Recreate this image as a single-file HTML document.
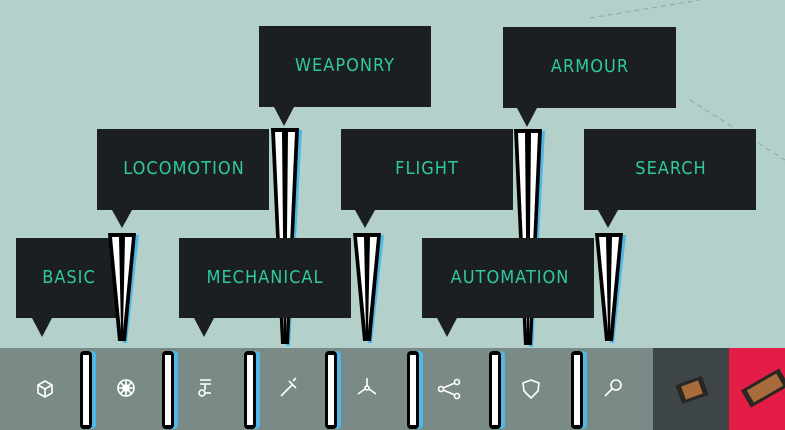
<!DOCTYPE html>
<html><head><meta charset="utf-8"><style>
html,body{margin:0;padding:0;width:785px;height:430px;overflow:hidden;background:#b3d1ca}
svg{display:block}
text{font-family:"DejaVu Sans Condensed","Liberation Sans Narrow","Liberation Sans",sans-serif;font-size:18px;fill:#2ec9a0;letter-spacing:1px;text-anchor:middle}
</style></head><body>
<svg width="785" height="430" viewBox="0 0 785 430" xmlns="http://www.w3.org/2000/svg">
<defs>
<g id="spk">
 <polygon points="-10,0 17,0 5,108 1,108" fill="#4fb8e6"/>
 <polygon points="-14,-2 14,-2 4,106 -4,106" fill="#000"/>
 <polygon points="-10,2 -3,2 -1,96" fill="#fff"/>
 <polygon points="3,2 10,2 1,96" fill="#fff"/>
</g>
<g id="spkL">
 <polygon points="-10,0 17,0 5,216 1,216" fill="#4fb8e6"/>
 <polygon points="-14,-2 14,-2 4,214 -4,214" fill="#000"/>
 <polygon points="-10,2 -3,2 -1,204" fill="#fff"/>
 <polygon points="3,2 10,2 1,204" fill="#fff"/>
</g>
<g id="bar">
 <rect x="-2" y="0" width="12" height="78" rx="4" fill="#4fb8e6"/>
 <rect x="-6" y="0" width="12" height="78" rx="4" fill="#000"/>
 <rect x="-3" y="4" width="6" height="70" fill="#fff"/>
</g>
</defs>
<!-- faint lines -->
<path d="M590 18 L700 0 M690 100 L785 160" stroke="#8fa5a2" stroke-width="1" stroke-dasharray="5,4" fill="none"/>
<!-- level1 boxes -->
<rect x="259" y="26" width="172" height="81" fill="#1c1f22"/>
<polygon points="274,107 294,107 284,126" fill="#1c1f22"/>
<text x="345" y="71">WEAPONRY</text>
<rect x="503" y="27" width="173" height="81" fill="#1c1f22"/>
<polygon points="517,108 537,108 527,127" fill="#1c1f22"/>
<text x="590" y="72">ARMOUR</text>
<!-- level2 boxes -->
<rect x="97" y="129" width="172" height="81" fill="#1c1f22"/>
<polygon points="112,210 132,210 122,228" fill="#1c1f22"/>
<text x="184" y="174">LOCOMOTION</text>
<rect x="341" y="129" width="172" height="81" fill="#1c1f22"/>
<polygon points="355,210 375,210 365,228" fill="#1c1f22"/>
<text x="427" y="174">FLIGHT</text>
<rect x="584" y="129" width="172" height="81" fill="#1c1f22"/>
<polygon points="598,210 618,210 608,228" fill="#1c1f22"/>
<text x="671" y="174">SEARCH</text>
<!-- long spikes -->
<use href="#spkL" x="285" y="130"/>
<use href="#spkL" x="528" y="131"/>
<!-- level3 boxes -->
<rect x="16" y="238" width="100" height="80" fill="#1c1f22"/>
<polygon points="32,318 52,318 42,337" fill="#1c1f22"/>
<text x="69" y="283">BASIC</text>
<rect x="179" y="238" width="172" height="80" fill="#1c1f22"/>
<polygon points="194,318 214,318 204,337" fill="#1c1f22"/>
<text x="265" y="283">MECHANICAL</text>
<rect x="422" y="238" width="172" height="80" fill="#1c1f22"/>
<polygon points="437,318 457,318 447,337" fill="#1c1f22"/>
<text x="510" y="283">AUTOMATION</text>
<!-- short spikes -->
<use href="#spk" x="122" y="235"/>
<use href="#spk" x="367" y="235"/>
<use href="#spk" x="609" y="235"/>
<!-- bottom bar -->
<rect x="0" y="348" width="653" height="82" fill="#7a8b87"/>
<rect x="653" y="348" width="76" height="82" fill="#3d4548"/>
<rect x="729" y="348" width="56" height="82" fill="#e41d47"/>
<g transform="translate(692,390) rotate(-20)"><rect x="-14" y="-10" width="28" height="20" fill="#2a2623"/><rect x="-9" y="-7" width="18" height="14" fill="#a86c3c"/></g>
<g transform="translate(765,388) rotate(-30)"><rect x="-22" y="-10" width="44" height="20" fill="#2a2623"/><rect x="-17" y="-7" width="34" height="14" fill="#a86c3c"/></g>
<use href="#bar" x="86" y="351"/>
<use href="#bar" x="168" y="351"/>
<use href="#bar" x="250" y="351"/>
<use href="#bar" x="331" y="351"/>
<use href="#bar" x="413" y="351"/>
<use href="#bar" x="495" y="351"/>
<use href="#bar" x="577" y="351"/>
<!-- icons -->
<g stroke="#fff" stroke-width="1.6" fill="none" stroke-linejoin="round">
 <path d="M45 381 L52 385 L52 393 L45 397 L38 393 L38 385 Z M38 385 L45 389 L52 385 M45 389 L45 397"/>
 <circle cx="126" cy="388" r="8"/><circle cx="126" cy="388" r="3"/><path d="M126 380 V396 M118 388 H134 M120 382 L132 394 M132 382 L120 394"/>
 <path d="M200 380 H211 M200 384 H211 M205 384 V390"/><circle cx="202" cy="393" r="3"/><path d="M205 393 H211"/>
 <path d="M281 396 L293 384 M289 381 L296 388 M293 381 L296 378"/>
 <circle cx="367" cy="388" r="2"/><path d="M367 386 V378 M365 389 L358 394 M369 389 L376 394"/>
 <circle cx="441" cy="389" r="2.5"/><circle cx="457" cy="382" r="2.5"/><circle cx="457" cy="396" r="2.5"/><path d="M443 388 L455 383 M443 390 L455 395"/>
 <path d="M531 380 L539 383 L538 391 L531 398 L524 391 L523 383 Z"/>
 <circle cx="616" cy="385" r="5"/><path d="M612 389 L605 396"/>
</g>
</svg>
</body></html>
